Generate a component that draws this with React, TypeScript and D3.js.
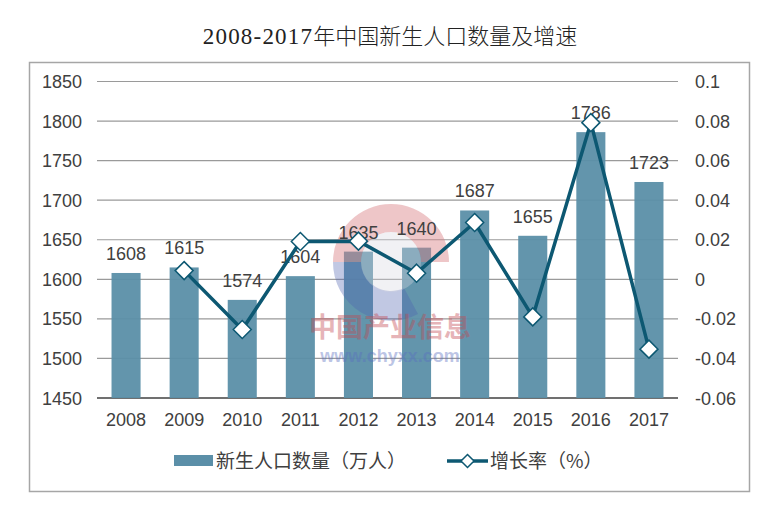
import React from "react";
import * as d3 from "d3";

const years = ["2008", "2009", "2010", "2011", "2012", "2013", "2014", "2015", "2016", "2017"];
const births = [1608, 1615, 1574, 1604, 1635, 1640, 1687, 1655, 1786, 1723];
const growth: (number | null)[] = [null, 0.0044, -0.0254, 0.0191, 0.0193, 0.0031, 0.0287, -0.019, 0.0792, -0.0353];
const leftTicks = [1450, 1500, 1550, 1600, 1650, 1700, 1750, 1800, 1850];
const rightTicks = [-0.06, -0.04, -0.02, 0, 0.02, 0.04, 0.06, 0.08, 0.1];
const rightTickLabels = ["-0.06", "-0.04", "-0.02", "0", "0.02", "0.04", "0.06", "0.08", "0.1"];
const titleNum = "2008-2017";
const titleCJK = "年中国新生人口数量及增速";
const legendBar = "新生人口数量（万人）";
const legendLine = "增长率（%）";

const BAR = "#5b8fa8";
const LINE = "#0d5872";
const TXT = "#404040";
const SANS = "'Liberation Sans', Arial, 'Noto Sans CJK SC', sans-serif";
const CJK = "'Noto Sans CJK SC', sans-serif";

export default function App() {
  const x = d3.scaleBand<string>().domain(years).range([97, 678]).paddingInner(0.5).paddingOuter(0.25);
  const yL = d3.scaleLinear().domain([1450, 1850]).range([398, 81.5]);
  const yR = d3.scaleLinear().domain([-0.06, 0.1]).range([398, 81.5]);
  const cx = (y: string) => (x(y) as number) + x.bandwidth() / 2;

  const pts = years
    .map((y, i) => ({ y, v: growth[i] }))
    .filter((d) => d.v !== null) as { y: string; v: number }[];
  const line = d3
    .line<{ y: string; v: number }>()
    .x((d) => cx(d.y))
    .y((d) => yR(d.v));

  const diamond = (px: number, py: number, r: number) =>
    `M${px},${py - r}L${px + r},${py}L${px},${py + r}L${px - r},${py}Z`;

  return (
    <svg width={781} height={512} style={{ position: "absolute", left: 0, top: 0, background: "#fff" }}>
      <rect x={0} y={0} width={781} height={512} fill="#fff" />
      {/* title */}
      <text x={390} y={44} textAnchor="middle" fontSize={22} fill="#222">
        <tspan fontFamily="'Liberation Serif', 'DejaVu Serif', serif" fontSize={23} letterSpacing={1.2}>{titleNum}</tspan>
        <tspan fontFamily={CJK} fontWeight={300}>{titleCJK}</tspan>
      </text>
      {/* frame */}
      <rect x={29.5} y={62.5} width={720} height={429} fill="none" stroke="#a6a6a6" strokeWidth={1.5} />

      {/* gridlines */}
      {leftTicks.map((t) => (
        <line key={t} x1={97} x2={678} y1={yL(t)} y2={yL(t)} stroke={t === 1450 ? "#404040" : "#9a9a9a"} strokeWidth={t === 1450 ? 1.5 : 1.2} />
      ))}
      {leftTicks.map((t) => (
        <text key={"l" + t} x={82} y={yL(t) + 6.5} textAnchor="end" fontSize={18} fontFamily={SANS} fill={TXT}>
          {t}
        </text>
      ))}
      {rightTicks.map((t, i) => (
        <text key={"r" + i} x={695} y={yR(t) + 6.5} textAnchor="start" fontSize={18} fontFamily={SANS} fill={TXT}>
          {rightTickLabels[i]}
        </text>
      ))}

      {/* bars */}
      {years.map((y, i) => (
        <rect key={y} x={x(y)} y={yL(births[i])} width={x.bandwidth()} height={398 - yL(births[i])} fill={BAR} fillOpacity={0.95} />
      ))}

      {/* watermark (overlay) */}
      <g>
        <path d="M333,262 A58,58 0 0 1 449,262 L421,262 A30,30 0 0 0 361,262 Z" fill="#d98086" opacity={0.45} />
        <path d="M333,262 A58,58 0 0 0 418,314 L404,288 A30,30 0 0 1 361,262 Z" fill="#4e62b0" opacity={0.35} />
        <circle cx={391} cy={262} r={30} fill="#d6d6e0" opacity={0.35} />
        <text x={390} y={337} textAnchor="middle" fontSize={27} fontWeight={700} fontFamily={CJK} fill="#c2474f" opacity={0.4}>
          中国产业信息
        </text>
        <text x={390} y={362} textAnchor="middle" fontSize={18} fontWeight={700} fontFamily={SANS} fill="#5a6fc0" opacity={0.4}>
          www.chyxx.com
        </text>
      </g>

      {/* bar labels */}
      {years.map((y, i) => (
        <text key={"b" + y} x={cx(y)} y={yL(births[i]) - 13} textAnchor="middle" fontSize={18} fontFamily={SANS} fill={TXT}>
          {births[i]}
        </text>
      ))}

      {/* line */}
      <path d={line(pts) || ""} fill="none" stroke={LINE} strokeWidth={3.5} strokeLinejoin="round" />
      {pts.map((d) => (
        <path key={"m" + d.y} d={diamond(cx(d.y), yR(d.v), 9)} fill="#fff" stroke={LINE} strokeWidth={1.5} />
      ))}

      {/* x labels */}
      {years.map((y) => (
        <text key={"x" + y} x={cx(y)} y={425.5} textAnchor="middle" fontSize={18} fontFamily={SANS} fill={TXT}>
          {y}
        </text>
      ))}

      {/* legend */}
      <rect x={174} y={455} width={39} height={11} fill={BAR} />
      <text x={216} y={468} fontSize={19} fontFamily={CJK} fill={TXT}>
        {legendBar}
      </text>
      <line x1={447} x2={488} y1={461} y2={461} stroke={LINE} strokeWidth={3.5} />
      <path d={diamond(467.5, 461, 6.5)} fill="#fff" stroke={LINE} strokeWidth={1.5} />
      <text x={490} y={468} fontSize={19} fontFamily={CJK} fill={TXT}>
        {legendLine}
      </text>
    </svg>
  );
}
